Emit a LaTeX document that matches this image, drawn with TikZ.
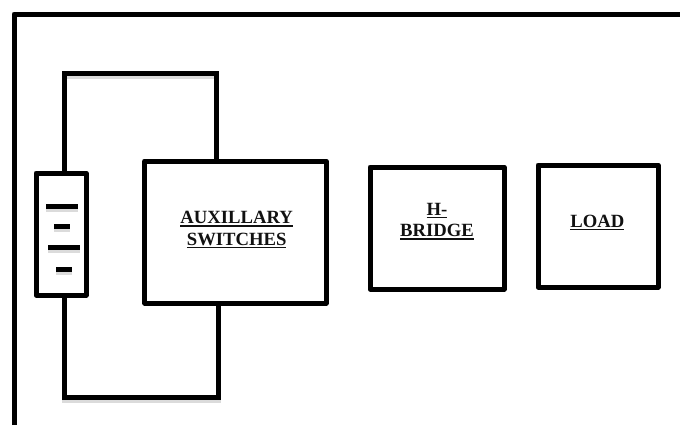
\documentclass[tikz,border=0pt]{standalone}
\usepackage{fontspec}
\setmainfont{Liberation Serif}
\usetikzlibrary{positioning,backgrounds}
\definecolor{wireink}{HTML}{000000}
\definecolor{labelink}{HTML}{111111}
\newcommand{\ulbl}[1]{\vtop{\hbox{#1}\kern1pt\hrule height 1.2pt}}

\begin{document}
\begin{tikzpicture}[
  x=0.75pt, y=-0.75pt,
  line join=round,
  hazed/.style={preaction={draw=black!14, line width=3.75pt, transform canvas={yshift=-2.6pt}}},
  box/.style={draw=wireink, line width=3.75pt, outer sep=0pt, inner sep=0pt, minimum height=91.5pt},
  lbl/.style={font=\fontsize{14}{16}\selectfont\bfseries, text=labelink, align=center, inner sep=0pt},
  wire/.style={draw=wireink, line width=3.75pt},
  trace/.style={wire, hazed},
  cell/.style={fill=wireink, outer sep=0pt, inner sep=0pt, minimum height=3.75pt, preaction={fill=black!14, transform canvas={yshift=-2.6pt}}},
  longcell/.style={cell, minimum width=24pt},
  shortcell/.style={cell, minimum width=12pt}
]
\useasboundingbox (0,0) rectangle (680,425);

\coordinate (framebl) at (14,425);
\coordinate (frametl) at (14,14);
\coordinate (frametr) at (680,14);
\coordinate (toplft) at (64,73);
\coordinate (toprgt) at (216,73);
\coordinate (botlft) at (64,397);
\coordinate (botrgt) at (218,397);

\node[box, minimum width=37.5pt] (batt) at (61,234) {};
\node[box, minimum width=136pt, minimum height=106.5pt, right=44pt of batt, yshift=1.5pt] (aux) {};
\node[box, minimum width=100.5pt, right=33pt of aux, yshift=3pt] (hbridge) {};
\node[box, minimum width=90pt, right=25.5pt of hbridge, yshift=1.5pt] (load) {};

\node[lbl] (auxtxt) at ([xshift=1pt,yshift=1.5pt]aux.center) {\ulbl{AUXILLARY}\\\ulbl{SWITCHES}};
\node[lbl] (hbridgetxt) at ([yshift=5pt]hbridge.center) {\ulbl{H-}\\\ulbl{BRIDGE}};
\node[lbl] (loadtxt) at ([xshift=-.5pt,yshift=2.5pt]load.center) {\ulbl{LOAD}};

\node[longcell] (cella) at (62,206) {};
\node[shortcell] (cellb) at (62,226) {};
\node[longcell] (cellc) at (64,247) {};
\node[shortcell] (celld) at (64,269) {};

\draw[wire] (framebl) -- (frametl) -- (frametr);
\begin{scope}[on background layer]
\draw[trace] (batt.north -| toplft) -- (toplft) -- (toprgt) -- (toprgt |- aux.north);
\draw[trace] (batt.south -| botlft) -- (botlft) -- (botrgt) -- (botrgt |- aux.south);
\end{scope}
\end{tikzpicture}
\end{document}
